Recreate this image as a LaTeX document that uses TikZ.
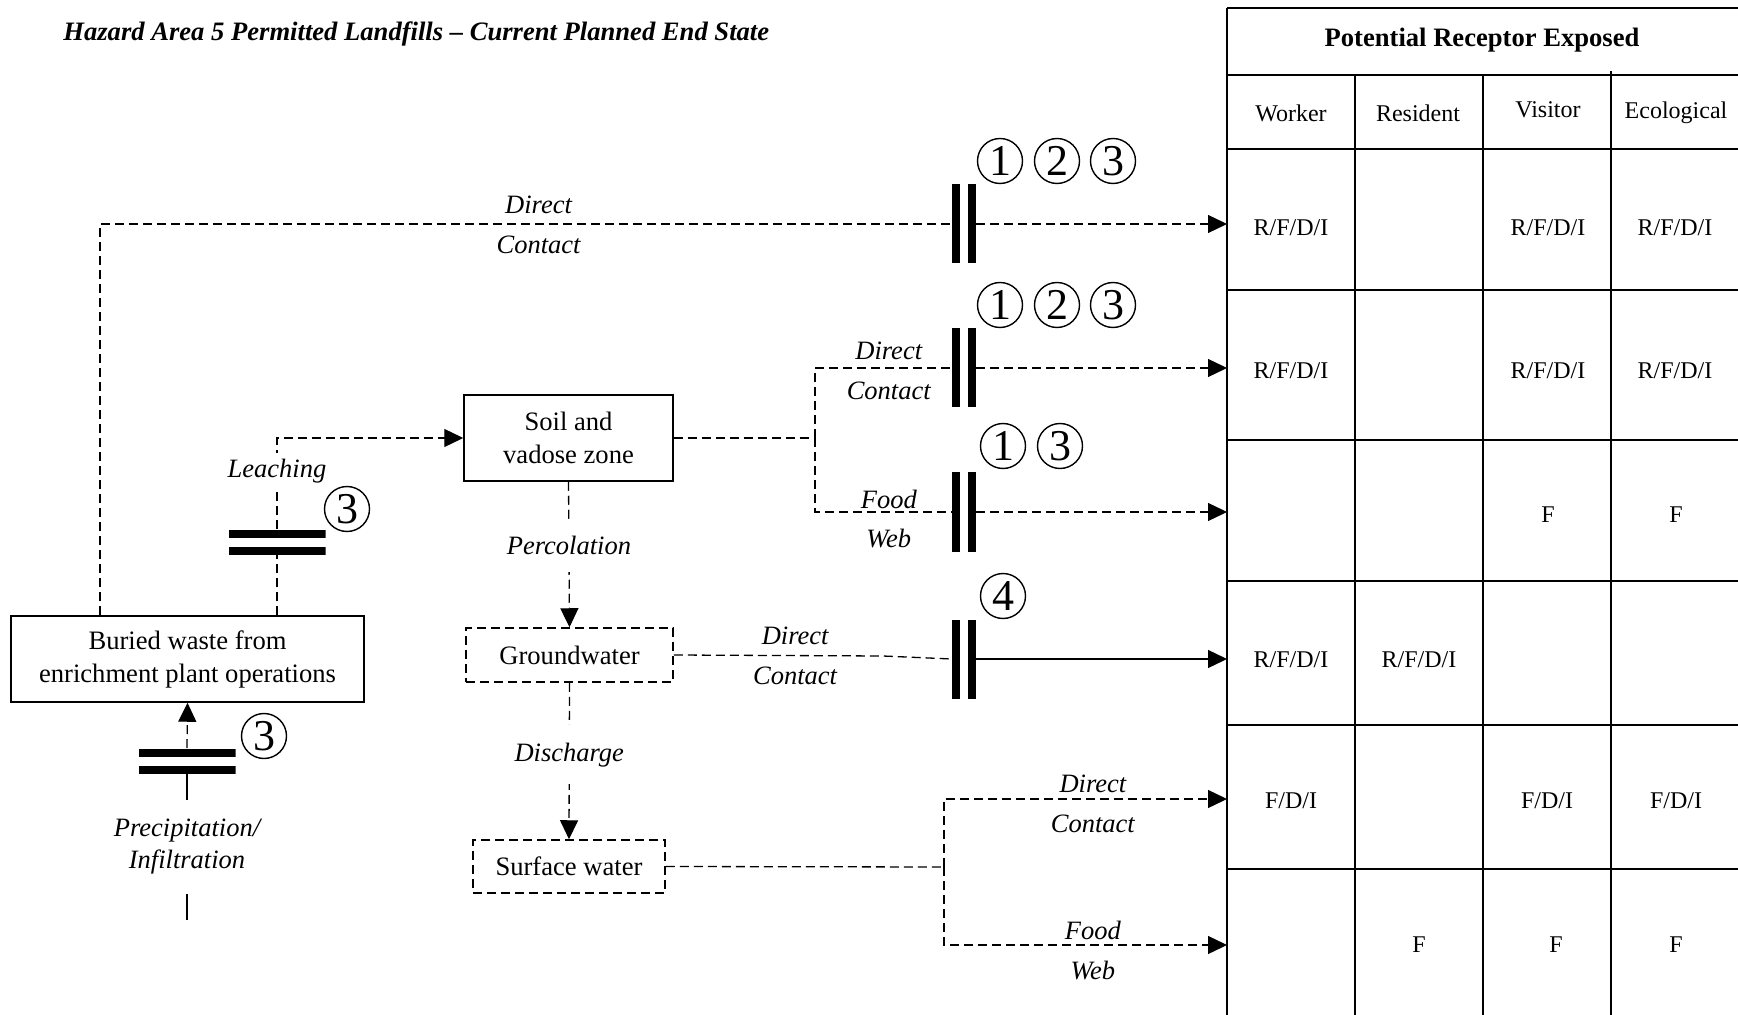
\documentclass[tikz,border=0pt]{standalone}
\usepackage{fontspec}
\setmainfont{Liberation Serif}
\usetikzlibrary{arrows.meta}
\begin{document}
\begin{tikzpicture}[x=0.5pt,y=-0.5pt,
  dsh/.style={line width=0.65pt, dash pattern=on 4.5pt off 2.5pt},
  sol/.style={line width=0.65pt},
  arr/.style={-{Triangle[length=9.5pt,width=9pt]}},
  box/.style={draw, line width=0.75pt, align=center, inner sep=0pt, font=\fontsize{13.3}{16.5}\selectfont},
  dbox/.style={box, dash pattern=on 4.5pt off 2.5pt},
  lab/.style={font=\fontsize{13.25}{16}\selectfont\itshape, inner sep=1pt},
  tcell/.style={font=\fontsize{12}{14}\selectfont, inner sep=0pt},
  thead/.style={font=\fontsize{13.3}{16}\selectfont\bfseries, inner sep=0pt},
  tline/.style={line width=0.9pt},
  circ/.style={circle, draw, line width=0.7pt, minimum size=22.5pt, inner sep=0pt, font=\fontsize{22}{22}\selectfont},
  vbar/.style={minimum width=12pt, minimum height=39.5pt, inner sep=0pt, fill=white,
    path picture={\fill[black] (path picture bounding box.south west) rectangle ([xshift=4pt]path picture bounding box.north west);
      \fill[black] (path picture bounding box.south east) rectangle ([xshift=-4pt]path picture bounding box.north east);}},
  hbar/.style={minimum width=48.5pt, minimum height=12.5pt, inner sep=0pt, fill=white,
    path picture={\fill[black] (path picture bounding box.north west) rectangle ([yshift=-4pt]path picture bounding box.north east);
      \fill[black] (path picture bounding box.south west) rectangle ([yshift=4pt]path picture bounding box.south east);}}
]
\useasboundingbox (0,0) rectangle (1738,1015);

% title
\node[anchor=west, inner sep=0pt, font=\fontsize{13.3}{16}\selectfont\bfseries\itshape] (title) at (63,34) {Hazard Area 5 Permitted Landfills -- Current Planned End State};

% table
\draw[tline] (1227,8) -- (1227,1015);
\foreach \yy in {8,75,149,290,440,581,725,869} \draw[tline] (1227,\yy) -- (1738,\yy);
\foreach \xx in {1355,1483} \draw[tline] (\xx,75) -- (\xx,1015);
\draw[tline] (1611,71) -- (1611,1015);
\node[thead] (hdr) at (1482,40) {Potential Receptor Exposed};
\node[tcell] (hw) at (1291,113) {Worker};
\node[tcell] (hr) at (1418,113) {Resident};
\node[tcell] (hv) at (1548,110) {Visitor};
\node[tcell] (he) at (1676,113) {Ecological};
\node[tcell] (c11) at (1291,228) {R/F/D/I};
\node[tcell] (c13) at (1548,228) {R/F/D/I};
\node[tcell] (c14) at (1675,228) {R/F/D/I};
\node[tcell] (c21) at (1291,371) {R/F/D/I};
\node[tcell] (c23) at (1548,371) {R/F/D/I};
\node[tcell] (c24) at (1675,371) {R/F/D/I};
\node[tcell] (c33) at (1548,515) {F};
\node[tcell] (c34) at (1676,515) {F};
\node[tcell] (c41) at (1291,660) {R/F/D/I};
\node[tcell] (c42) at (1419,660) {R/F/D/I};
\node[tcell] (c51) at (1291,801) {F/D/I};
\node[tcell] (c53) at (1547,801) {F/D/I};
\node[tcell] (c54) at (1676,801) {F/D/I};
\node[tcell] (c62) at (1419,945) {F};
\node[tcell] (c63) at (1556,945) {F};
\node[tcell] (c64) at (1676,945) {F};

\coordinate (t1) at (1227,224);
\coordinate (t2) at (1227,368);
\coordinate (t3) at (1227,512);
\coordinate (t4) at (1227,659);
\coordinate (t5) at (1227,799);
\coordinate (t6) at (1227,945);

% boxes
\node[box, minimum width=176.5pt, minimum height=43pt] (buried) at (187.5,659) {Buried waste from\\enrichment plant operations};
\node[box, minimum width=104.5pt, minimum height=43pt] (soil) at (568.5,438) {Soil and\\vadose zone};
\node[dbox, minimum width=103.5pt, minimum height=27pt] (gw) at (569.5,655) {Groundwater};
\node[dbox, minimum width=96pt, minimum height=26.5pt] (sw) at (569,866.5) {Surface water};

% barriers
\node[vbar] (b1) at (964,224) {};
\node[vbar] (b2) at (964,368) {};
\node[vbar] (b3) at (964,512) {};
\node[vbar] (b4) at (964,659) {};
\node[hbar] (hb1) at (277,542) {};
\node[hbar] (hb2) at (187,761) {};

% circled numbers
\node[circ] (n11) at (1000,161) {1};
\node[circ] (n12) at (1057,161) {2};
\node[circ] (n13) at (1113,161) {3};
\node[circ] (n21) at (1000,305) {1};
\node[circ] (n22) at (1057,305) {2};
\node[circ] (n23) at (1113,305) {3};
\node[circ] (n31) at (1003,446) {1};
\node[circ] (n33) at (1060,446) {3};
\node[circ] (n44) at (1003,596) {4};
\node[circ] (nl3) at (347,509) {3};
\node[circ] (np3) at (264,736) {3};

% row 1: direct contact from buried waste
\coordinate (k1) at (100,224);
\draw[dsh] (buried.north -| k1) -- (k1) -- node[lab,pos=0.515,yshift=9.5pt]{Direct} node[lab,pos=0.515,yshift=-10.5pt]{Contact} (b1.west);
\draw[dsh,arr] (b1.east) -- (t1);

% leaching
\coordinate (k2) at (277,438);
\draw[dsh] (buried.north -| hb1) -- (hb1.south);
\draw[dsh,arr] (hb1.north) -- node[lab, fill=white, pos=0.64, inner ysep=3pt]{Leaching} (k2) -- (soil.west);

% soil branches
\coordinate (j1) at (815,438);
\draw[dsh] (soil.east) -- (j1);
\draw[dsh] (j1) |- node[lab,pos=0.77,yshift=8.5pt]{Direct} node[lab,pos=0.77,yshift=-11.5pt]{Contact} (b2.west);
\draw[dsh] (j1) |- node[lab,pos=0.77,yshift=6.5pt]{Food} node[lab,pos=0.77,yshift=-13.5pt]{Web} (b3.west);
\draw[dsh,arr] (b2.east) -- (t2);
\draw[dsh,arr] (b3.east) -- (t3);

% percolation
\draw[dsh,arr] (soil.south) -- node[lab, fill=white, pos=0.44, inner ysep=8.5pt]{Percolation} (gw.north);

% groundwater direct contact
\coordinate (k4) at (883,656);
\draw[dsh] (gw.east) -- node[lab,pos=0.58,yshift=10pt]{Direct} node[lab,pos=0.58,yshift=-10pt]{Contact} (k4) -- (b4.west);
\draw[sol,arr] (b4.east) -- (t4);

% discharge
\draw[dsh,arr] (gw.south) -- node[lab, fill=white, pos=0.46, inner ysep=8.75pt]{Discharge} (sw.north);

% surface water branches
\coordinate (j5) at (944,867);
\draw[dsh] (sw.east) -- (j5);
\draw[dsh,arr] (j5) |- node[lab,pos=0.763,yshift=7.5pt]{Direct} node[lab,pos=0.763,yshift=-12.5pt]{Contact} (t5);
\draw[dsh,arr] (j5) |- node[lab,pos=0.763,yshift=7.5pt]{Food} node[lab,pos=0.763,yshift=-12.5pt]{Web} (t6);

% precipitation
\node[lab, align=center, inner ysep=9.5pt] (precip) at (187,847) {Precipitation/\\Infiltration};
\coordinate (pb) at (187,920);
\draw[sol] (precip.south) -- (pb);
\draw[sol] (precip.north) -- (hb2.south);
\draw[dsh,arr] (hb2.north) -- (buried.south);
\end{tikzpicture}
\end{document}
